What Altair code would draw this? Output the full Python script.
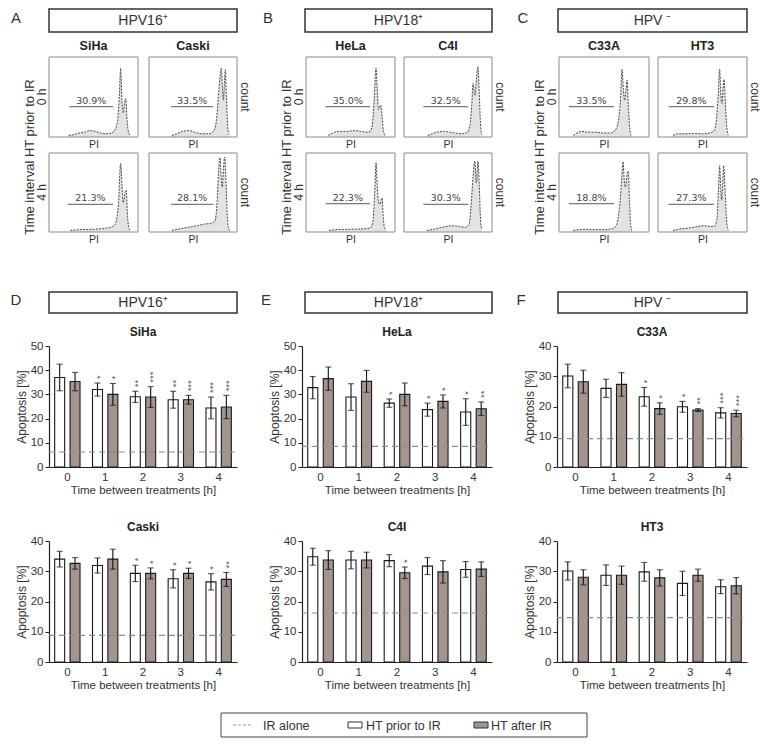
import altair as alt
import pandas as pd

FONT = "Liberation Sans"

# ------------------------------------------------------------------ data
TIMES = [0, 1, 2, 3, 4]
TREATS = ["prior", "after"]
LEGEND_LABELS = ["IR alone", "HT prior to IR", "HT after IR"]

# Panel D-F : apoptosis [%] (mean, error), number of significance stars, IR alone level
SIHA_PRIOR = [37.0, 32.0, 29.0, 27.8, 24.4]
SIHA_PRIOR_ERR = [5.5, 2.7, 2.3, 3.5, 4.5]
SIHA_AFTER = [35.3, 30.0, 28.9, 27.8, 24.8]
SIHA_AFTER_ERR = [3.8, 4.5, 4.3, 1.8, 4.8]
SIHA_STARS_PRIOR = [0, 1, 2, 2, 3]
SIHA_STARS_AFTER = [0, 1, 3, 3, 3]
SIHA_IR = 6.2

CASKI_PRIOR = [34.0, 31.9, 29.3, 27.5, 26.5]
CASKI_PRIOR_ERR = [2.6, 2.5, 2.7, 3.0, 2.7]
CASKI_AFTER = [32.6, 34.0, 29.3, 29.3, 27.3]
CASKI_AFTER_ERR = [1.9, 3.3, 1.8, 1.7, 2.3]
CASKI_STARS_PRIOR = [0, 0, 1, 1, 1]
CASKI_STARS_AFTER = [0, 0, 1, 1, 2]
CASKI_IR = 8.8

HELA_PRIOR = [32.8, 28.9, 26.4, 23.7, 22.7]
HELA_PRIOR_ERR = [4.6, 5.5, 1.7, 2.7, 5.5]
HELA_AFTER = [36.5, 35.4, 30.0, 27.1, 24.1]
HELA_AFTER_ERR = [4.8, 4.5, 4.7, 2.7, 2.8]
HELA_STARS_PRIOR = [0, 0, 1, 1, 1]
HELA_STARS_AFTER = [0, 0, 0, 1, 2]
HELA_IR = 8.5

C4I_PRIOR = [34.8, 33.7, 33.5, 31.7, 30.6]
C4I_PRIOR_ERR = [2.8, 2.9, 2.0, 2.8, 2.6]
C4I_AFTER = [33.7, 33.7, 29.5, 29.8, 30.7]
C4I_AFTER_ERR = [3.1, 2.6, 1.9, 3.7, 2.4]
C4I_STARS_PRIOR = [0, 0, 0, 0, 0]
C4I_STARS_AFTER = [0, 0, 1, 0, 0]
C4I_IR = 16.2

C33A_PRIOR = [30.1, 26.0, 23.2, 19.9, 17.9]
C33A_PRIOR_ERR = [3.9, 3.0, 3.1, 1.8, 1.7]
C33A_AFTER = [28.2, 27.3, 19.3, 18.8, 17.7]
C33A_AFTER_ERR = [3.8, 3.9, 1.9, 0.5, 1.1]
C33A_STARS_PRIOR = [0, 0, 1, 1, 3]
C33A_STARS_AFTER = [0, 0, 1, 2, 3]
C33A_IR = 9.4

HT3_PRIOR = [30.1, 28.7, 29.8, 26.0, 24.9]
HT3_PRIOR_ERR = [3.0, 3.4, 3.1, 4.0, 2.3]
HT3_AFTER = [28.0, 28.7, 27.8, 28.7, 25.2]
HT3_AFTER_ERR = [2.5, 3.0, 2.7, 2.0, 2.7]
HT3_STARS_PRIOR = [0, 0, 0, 0, 0]
HT3_STARS_AFTER = [0, 0, 0, 0, 0]
HT3_IR = 14.7

# Panel A-C : PI histograms, (PI, count %)
SIHA_0H = [(22, 2), (28, 3), (34, 5), (40, 6), (46, 8), (52, 7), (58, 5), (64, 4), (70, 5), (74, 9),
           (77, 20), (79, 50), (80.5, 86), (82, 45), (83.5, 30), (85, 44), (86.3, 48), (87.5, 25), (89, 8), (91, 2)]
SIHA_4H = [(24, 2), (35, 3), (50, 3.5), (65, 5), (72, 7), (75, 12), (78, 35), (80.5, 87), (82, 60),
           (83.5, 37), (85.5, 50), (86.8, 53), (88, 25), (89.5, 6), (91, 2)]
CASKI_0H = [(26, 2), (32, 4), (38, 7), (45, 8), (52, 6), (60, 4), (68, 4), (74, 8), (77, 25), (79.5, 60),
            (82.2, 86), (83.5, 60), (84.5, 46), (85.6, 65), (86.7, 84), (88, 50), (89.5, 12), (91, 3)]
CASKI_4H = [(26, 2), (35, 4), (45, 6), (55, 8), (63, 10), (70, 11), (75, 14), (77.5, 40), (79.5, 85),
            (80.7, 94), (82, 70), (83.3, 57), (84.6, 80), (86, 95), (87.3, 70), (89, 20), (90.5, 4), (92, 2)]
HELA_0H = [(25, 2), (30, 5), (36, 7), (45, 7), (55, 8), (62, 7), (68, 6), (72, 7), (74.5, 15), (76.5, 45),
           (78.7, 86), (80, 60), (81.5, 34), (83, 38), (84, 40), (85.5, 25), (87, 8), (89, 2)]
HELA_4H = [(26, 2), (35, 3), (50, 3.5), (65, 4), (72, 5), (75, 12), (77, 45), (78.7, 88), (80, 60),
           (81.5, 38), (83, 35), (84.3, 40), (85.4, 43), (86.5, 25), (88, 6), (90, 2)]
C4I_0H = [(27, 2), (32, 4), (37, 6), (45, 7), (52, 6), (58, 5), (66, 4), (72, 6), (75, 15), (77, 40),
          (78.5, 67), (80.5, 52), (82.5, 75), (84, 88), (85.5, 55), (87, 15), (88.5, 3)]
C4I_4H = [(26, 2), (32, 3), (40, 5), (48, 7), (56, 8), (63, 7), (70, 6), (74, 10), (76, 30), (78.5, 70),
          (80.4, 90), (82.3, 62), (84, 90), (85.5, 60), (87, 15), (88.5, 3)]
C33A_0H = [(16, 2), (20, 5), (25, 7), (32, 6), (40, 6), (50, 5), (58, 5), (62, 8), (65, 15), (67, 28),
           (68.5, 50), (70, 85), (71.5, 60), (73, 46), (74.5, 60), (75.6, 71), (77, 40), (78.5, 12), (80, 2)]
C33A_4H = [(16, 2), (22, 3), (30, 3.5), (40, 3), (50, 3), (58, 4), (63, 7), (66, 20), (68, 40), (69.8, 70),
           (71.2, 89), (72.5, 65), (73.8, 57), (75.3, 70), (76.8, 77), (78.3, 40), (79.5, 10), (81, 2)]
HT3_0H = [(17, 2), (22, 4), (30, 4), (40, 4.5), (50, 4), (58, 5), (63, 8), (65.5, 20), (67.5, 50),
          (69.3, 85), (70.5, 55), (71.8, 42), (73, 60), (74.2, 72), (75.8, 40), (77.3, 12), (79, 2)]
HT3_4H = [(17, 2), (25, 4), (35, 5), (45, 7), (52, 8), (58, 7), (63, 7), (66, 15), (67.8, 50), (69.3, 84),
          (70.5, 55), (71.5, 40), (72.6, 60), (73.8, 84), (75.5, 50), (77.2, 12), (79, 2)]

# gate (start, end, height) and sub-G1 percentage for each histogram (0 h, 4 h)
SIHA_GATES = [(23, 72, 38, "30.9%"), (21, 72, 35, "21.3%")]
CASKI_GATES = [(25, 73, 38, "33.5%"), (25, 73, 35, "28.1%")]
HELA_GATES = [(22, 72, 38, "35.0%"), (22, 72, 36, "22.3%")]
C4I_GATES = [(22, 73, 38, "32.5%"), (22, 73, 35, "30.3%")]
C33A_GATES = [(11, 61, 38, "33.5%"), (11, 61, 36, "18.8%")]
HT3_GATES = [(12, 63, 38, "29.8%"), (12, 63, 35, "27.3%")]

# ------------------------------------------------------------------ layout constants (chart px)
W, H = 757, 731
BIG = "Time interval HT prior to IR"
one = pd.DataFrame({"k": [0]})


def text_at(txt, x, y, size=11, weight="normal", color="#333", angle=0, align="center",
            baseline="middle", font=FONT):
    kw = dict(font=font, fontSize=size, fontWeight=weight, color=color, align=align, baseline=baseline)
    if angle:
        kw["angle"] = angle
    return alt.Chart(pd.DataFrame({"t": [txt]})).mark_text(**kw).encode(
        x=alt.value(x), y=alt.value(y), text="t:N")


def frame(x0, x1, y0, y1, stroke, width, fill="#ffffff", fill_opacity=0.0):
    return alt.Chart(one).mark_rect(stroke=stroke, strokeWidth=width, fill=fill,
                                    fillOpacity=fill_opacity).encode(
        x=alt.value(x0), x2=alt.value(x1), y=alt.value(y0), y2=alt.value(y1))


def header(letter, txt, x0, x1, y0, y1, letter_x, letter_y):
    return [frame(x0, x1, y0, y1, "#333", 1.5),
            text_at(txt, (x0 + x1) / 2, (y0 + y1) / 2 + 0.5, size=14),
            text_at(letter, letter_x, letter_y, size=15)]


def hist_panel(points, gate, x0, x1, y0, y1, side, side_title, title=None, big=False):
    df = pd.DataFrame(points, columns=["pi", "count"])
    xs = alt.Scale(domain=[0, 100], range=[x0, x1], nice=False, zero=False)
    ys = alt.Scale(domain=[0, 100], range=[y1, y0], nice=False, zero=False)
    xaxis = alt.Axis(orient="bottom", offset=y1 - H, title="PI", labels=False, ticks=False,
                     domain=False, grid=False, titlePadding=2, minExtent=0, titleFontSize=10.5,
                     titleColor="#333", titleFontWeight="normal")

    def X(f):
        return alt.X(f, scale=xs, axis=xaxis, title="PI")

    def Y(f):
        return alt.Y(f, scale=ys, axis=None)

    area = alt.Chart(df).mark_area(color="#e3e3e3", interpolate="monotone").encode(
        x=X("pi:Q"), y=Y("count:Q"))
    line = alt.Chart(df).mark_line(color="#474747", strokeDash=[2, 1.2], strokeWidth=1,
                                   interpolate="monotone").encode(x=X("pi:Q"), y=Y("count:Q"))
    g0, g1, gy, lab = gate
    gdf = pd.DataFrame({"a": [g0], "b": [g1], "m": [(g0 + g1) / 2], "g": [gy], "lab": [lab]})
    rule = alt.Chart(gdf).mark_rule(color="#7a7a7a", strokeWidth=1.2).encode(
        x=X("a:Q"), x2="b:Q", y=Y("g:Q"))
    lbl = alt.Chart(gdf).mark_text(font="DejaVu Sans", fontSize=9.5, color="#444",
                                   baseline="alphabetic", dy=-3).encode(
        x=X("m:Q"), y=Y("g:Q"), text="lab:N")
    box = frame(x0, x1, y0, y1, "#8a8a8a", 1)
    out = [alt.layer(area, line, rule, lbl, box)]
    ym = (y0 + y1) / 2
    if side == "left":
        out.append(text_at(side_title, x0 - 7, ym, size=12, angle=270))
    else:
        out.append(text_at(side_title, x1 + 8, ym, size=12, angle=90))
    if title:
        out.append(text_at(title, (x0 + x1) / 2, y0 - 11, size=12.5, weight="bold", color="#222"))
    if big:
        out.append(text_at(BIG, x0 - 19, y0 + 4, size=13, angle=270))
    return out


def bar_frame(prior, prior_err, after, after_err, s_prior, s_after):
    rows = []
    for i, t in enumerate(TIMES):
        for treat, v, e, s in (("prior", prior[i], prior_err[i], s_prior[i]),
                               ("after", after[i], after_err[i], s_after[i])):
            rows.append({"time": t, "treat": treat, "val": v, "lo": v - e, "hi": v + e,
                         "stars": "*" * s})
    return pd.DataFrame(rows)


def bar_panel(title, df, ir, ymax, x0, x1, y0, y1):
    ytitle = "Apoptosis [%]"
    xs = alt.Scale(range=[x0, x1], paddingInner=0.33, paddingOuter=0.15)
    xaxis = alt.Axis(orient="bottom", offset=y1 - H, labelAngle=0, ticks=False, tickSize=0,
                     labelPadding=4, titlePadding=2, minExtent=0, labelFontSize=11.5,
                     titleFontSize=11.5, domainColor="#222", domainWidth=1.2, labelColor="#333",
                     titleColor="#333", titleFontWeight="normal", grid=False)
    ys = alt.Scale(domain=[0, ymax], range=[y1, y0], nice=False)
    yaxis = alt.Axis(orient="left", offset=-x0, values=list(range(0, ymax + 1, 10)), tickSize=4,
                     tickColor="#222", domainColor="#222", domainWidth=1.2, labelColor="#333",
                     labelFontSize=11.5, labelPadding=2, titleFontSize=12, titleColor="#333",
                     titlePadding=2, minExtent=0, titleFontWeight="normal", grid=False)
    xenc = alt.X("time:O", title="Time between treatments [h]", scale=xs, axis=xaxis)
    xoff = alt.XOffset("treat:N", scale=alt.Scale(domain=TREATS, paddingInner=0.35, paddingOuter=0))

    def Y(f):
        return alt.Y(f, title=ytitle, scale=ys, axis=yaxis)

    base = alt.Chart(df)
    bars = base.mark_bar(stroke="#1a1a1a", strokeWidth=1.1).encode(
        x=xenc, xOffset=xoff, y=Y("val:Q"),
        fill=alt.Fill("treat:N", scale=alt.Scale(domain=TREATS, range=["#ffffff", "#a3948f"]),
                      legend=None))
    err = base.mark_rule(color="#111", strokeWidth=1.1).encode(
        x=xenc, xOffset=xoff, y=Y("lo:Q"), y2="hi:Q")
    cap_hi = base.mark_tick(color="#111", size=6, thickness=1.1).encode(
        x=xenc, xOffset=xoff, y=Y("hi:Q"))
    cap_lo = base.mark_tick(color="#111", size=6, thickness=1.1).encode(
        x=xenc, xOffset=xoff, y=Y("lo:Q"))
    # significance stars: one vertical string of asterisks per bar
    stars = base.transform_filter("length(datum.stars) > 0").mark_text(
        font=FONT, fontSize=9.5, color="#555", angle=270, align="left", baseline="middle",
        dx=4, dy=2.5).encode(x=xenc, xOffset=xoff, y=Y("hi:Q"), text="stars:N")
    ctrl = alt.Chart(pd.DataFrame({"ir": [ir]})).mark_rule(
        color="#8c8c8c", strokeDash=[6, 4], strokeWidth=1.2).encode(
        y=Y("ir:Q"), x=alt.value(x0), x2=alt.value(x1))
    return [alt.layer(bars, err, cap_hi, cap_lo, stars, ctrl),
            text_at(title, (x0 + x1) / 2, y0 - 14, size=12, weight="bold", color="#222")]


# ------------------------------------------------------------------ assemble
layers = []

# headers A-C
layers += header("A", "HPV16⁺", 41, 229, 1, 24, 8, 10)
layers += header("B", "HPV18⁺", 297, 484, 1, 24, 260, 10)
layers += header("C", "HPV ⁻", 550, 739, 1, 24, 515, 10)

HIST_COLS = [
    ("SiHa", SIHA_0H, SIHA_4H, SIHA_GATES, 41, 130, "left"),
    ("Caski", CASKI_0H, CASKI_4H, CASKI_GATES, 141, 229, "right"),
    ("HeLa", HELA_0H, HELA_4H, HELA_GATES, 298, 387, "left"),
    ("C4I", C4I_0H, C4I_4H, C4I_GATES, 396, 484, "right"),
    ("C33A", C33A_0H, C33A_4H, C33A_GATES, 551, 641, "left"),
    ("HT3", HT3_0H, HT3_4H, HT3_GATES, 650, 739, "right"),
]
HIST_ROWS = [("0 h", 49, 129), ("4 h", 145, 224)]
for name, h0, h4, gates, x0, x1, side in HIST_COLS:
    for r, (rlab, y0, y1) in enumerate(HIST_ROWS):
        layers += hist_panel(h0 if r == 0 else h4, gates[r], x0, x1, y0, y1, side,
                             rlab if side == "left" else "count",
                             title=name if r == 0 else None,
                             big=(side == "left" and r == 1))

# headers D-F
layers += header("D", "HPV16⁺", 41, 229, 284, 305, 8, 292)
layers += header("E", "HPV18⁺", 297, 484, 284, 305, 258, 292)
layers += header("F", "HPV ⁻", 550, 739, 284, 305, 513, 292)

siha = bar_frame(SIHA_PRIOR, SIHA_PRIOR_ERR, SIHA_AFTER, SIHA_AFTER_ERR, SIHA_STARS_PRIOR, SIHA_STARS_AFTER)
caski = bar_frame(CASKI_PRIOR, CASKI_PRIOR_ERR, CASKI_AFTER, CASKI_AFTER_ERR, CASKI_STARS_PRIOR, CASKI_STARS_AFTER)
hela = bar_frame(HELA_PRIOR, HELA_PRIOR_ERR, HELA_AFTER, HELA_AFTER_ERR, HELA_STARS_PRIOR, HELA_STARS_AFTER)
c4i = bar_frame(C4I_PRIOR, C4I_PRIOR_ERR, C4I_AFTER, C4I_AFTER_ERR, C4I_STARS_PRIOR, C4I_STARS_AFTER)
c33a = bar_frame(C33A_PRIOR, C33A_PRIOR_ERR, C33A_AFTER, C33A_AFTER_ERR, C33A_STARS_PRIOR, C33A_STARS_AFTER)
ht3 = bar_frame(HT3_PRIOR, HT3_PRIOR_ERR, HT3_AFTER, HT3_AFTER_ERR, HT3_STARS_PRIOR, HT3_STARS_AFTER)

layers += bar_panel("SiHa", siha, SIHA_IR, 50, 41, 229, 338, 459)
layers += bar_panel("HeLa", hela, HELA_IR, 50, 294, 484, 338, 459)
layers += bar_panel("C33A", c33a, C33A_IR, 40, 549, 739, 338, 459)
layers += bar_panel("Caski", caski, CASKI_IR, 40, 41, 229, 533, 654)
layers += bar_panel("C4I", c4i, C4I_IR, 40, 294, 484, 533, 654)
layers += bar_panel("HT3", ht3, HT3_IR, 40, 549, 739, 533, 654)

# legend
LX0, LX1, LY0, LY1 = 213, 579, 705, 729
LYM = (LY0 + LY1) / 2
layers.append(frame(LX0, LX1, LY0, LY1, "#444", 1))
layers.append(alt.Chart(one).mark_rule(color="#9a9a9a", strokeDash=[3, 2], strokeWidth=1).encode(
    x=alt.value(LX0 + 12), x2=alt.value(LX0 + 31), y=alt.value(LYM)))
layers.append(frame(LX0 + 127, LX0 + 141, LYM - 3, LYM + 3, "#333", 1, "#ffffff", 1))
layers.append(frame(LX0 + 253, LX0 + 267, LYM - 3, LYM + 3, "#333", 1, "#a3948f", 1))
for lab, dx in zip(LEGEND_LABELS, [42, 145, 270]):
    layers.append(text_at(lab, LX0 + dx, LYM + 0.5, size=12.5, align="left"))

chart = alt.layer(*layers).resolve_scale(
    x="independent", y="independent", xOffset="independent"
).properties(
    width=W, height=H, padding=0, autosize=alt.AutoSizeParams(type="pad")
).configure(font=FONT).configure_view(stroke="transparent").configure_axis(
    labelFont=FONT, titleFont=FONT
)

chart.save("out.html", embed_options={"renderer": "svg", "actions": False})
